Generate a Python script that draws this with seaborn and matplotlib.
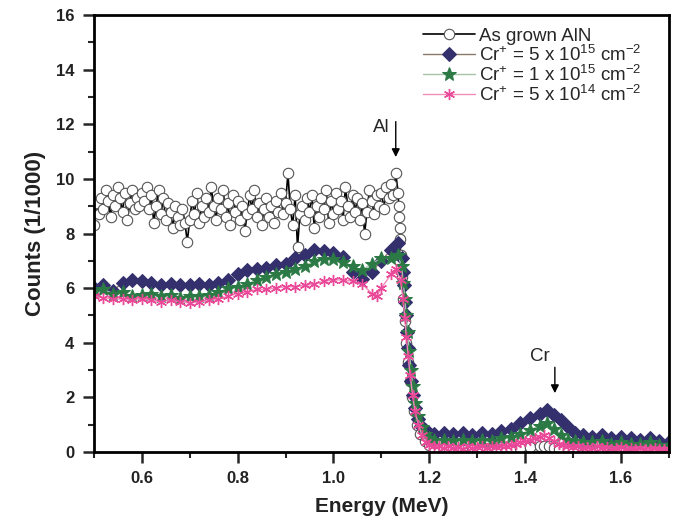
import numpy as np
import pandas as pd
import seaborn as sns
import matplotlib.pyplot as plt

sns.set_style("ticks")
plt.rcParams['font.family'] = ['Liberation Sans', 'DejaVu Sans']
plt.rcParams['mathtext.fontset'] = 'custom'
plt.rcParams['mathtext.rm'] = 'Liberation Sans'
plt.rcParams['mathtext.it'] = 'Liberation Sans:italic'
plt.rcParams['mathtext.bf'] = 'Liberation Sans:bold'

# ---- As grown AlN ----
aln_x = list(np.round(np.arange(0.500, 1.1301, 0.005), 3)) + [
    1.135, 1.136, 1.137, 1.138, 1.139, 1.140, 1.143, 1.146, 1.149, 1.152,
    1.155, 1.159, 1.163, 1.168, 1.174, 1.181, 1.190, 1.200, 1.210,
    1.23, 1.25, 1.27, 1.29, 1.31, 1.33, 1.35, 1.37, 1.39, 1.41, 1.43,
    1.44, 1.45, 1.46, 1.47, 1.49, 1.51, 1.53, 1.55, 1.57, 1.59, 1.61,
    1.63, 1.65, 1.67, 1.69]
aln_y = [
    8.3, 9.1, 8.7, 9.3, 8.9, 9.6, 9.2, 8.6, 9.4, 9.0,
    9.7, 9.3, 8.8, 9.5, 8.5, 9.1, 9.6, 8.9, 9.3, 9.0,
    9.5, 9.2, 9.7, 8.9, 9.4, 8.4, 9.0, 9.6, 8.7, 9.3,
    8.5, 9.1, 8.8, 8.2, 9.0, 8.6, 8.3, 8.9, 8.4, 7.7,
    8.5, 9.2, 8.7, 9.5, 8.4, 9.0, 8.6, 9.3, 8.8, 9.7,
    9.0, 8.5, 9.3, 8.9, 9.6, 8.6, 9.1, 8.3, 9.4, 8.8,
    9.2, 8.5, 9.0, 8.1, 8.7, 9.4, 8.9, 9.6, 8.6, 9.1,
    8.3, 8.9, 9.3, 8.6, 9.0, 8.4, 9.2, 8.8, 9.5, 8.7,
    9.1, 10.2, 8.9, 8.3, 9.4, 7.5, 8.7, 9.0, 8.5, 9.3,
    8.8, 9.4, 8.2, 9.0, 8.6, 9.3, 8.9, 9.6, 8.4, 9.2,
    8.7, 9.5, 8.9, 9.2, 8.5, 9.7, 9.0, 8.6, 9.4, 8.8,
    9.3, 8.5, 9.1, 8.0, 8.8, 9.6, 9.2, 8.7, 9.4, 9.0,
    9.5, 8.9, 9.7, 9.3, 9.8, 9.4, 10.2,
    9.5, 9.0, 8.6, 8.2, 7.8, 7.2, 6.4, 5.6, 4.8, 4.0,
    3.3, 2.6, 2.0, 1.5, 1.0, 0.65, 0.4, 0.25, 0.15,
    0.1, 0.1, 0.08, 0.1, 0.08, 0.1, 0.1, 0.12, 0.15, 0.18, 0.2,
    0.22, 0.2, 0.15, 0.12, 0.1, 0.08, 0.1, 0.08, 0.1, 0.08, 0.1,
    0.08, 0.1, 0.08, 0.1]

# ---- Cr+ = 5e15 ----
cr515_x = list(np.round(np.arange(0.50, 1.1201, 0.02), 3)) + [
    1.135, 1.142, 1.145, 1.147, 1.149, 1.151, 1.153, 1.155, 1.158, 1.161,
    1.165, 1.170, 1.176, 1.183, 1.192, 1.200, 1.210,
    1.23, 1.25, 1.27, 1.29, 1.31, 1.33, 1.35, 1.37, 1.39, 1.41, 1.43,
    1.445, 1.46, 1.475, 1.49, 1.505, 1.52, 1.54, 1.56, 1.58, 1.60, 1.62,
    1.64, 1.66, 1.68, 1.70]
cr515_y = [
    6.0, 6.1, 5.9, 6.2, 6.3, 6.25, 6.2, 6.1, 6.15, 6.1,
    6.1, 6.15, 6.1, 6.2, 6.3, 6.5, 6.65, 6.7, 6.75, 6.85,
    6.9, 7.1, 7.2, 7.4, 7.35, 7.3, 7.15, 6.6, 6.35, 6.6,
    7.0, 7.4,
    7.65, 7.1, 6.6, 6.1, 5.5, 5.0, 4.4, 3.8, 3.2, 2.6,
    2.1, 1.6, 1.2, 0.95, 0.8, 0.7, 0.65,
    0.7, 0.65, 0.7, 0.6, 0.7, 0.65, 0.75, 0.85, 1.05, 1.25, 1.4,
    1.55, 1.35, 1.15, 0.9, 0.7, 0.6, 0.55, 0.6, 0.5, 0.55, 0.5,
    0.45, 0.5, 0.4, 0.35]

# ---- Cr+ = 1e15 ----
cr115_x = list(np.round(np.arange(0.50, 1.1201, 0.02), 3)) + [
    1.135, 1.142, 1.146, 1.149, 1.152, 1.155, 1.158, 1.162, 1.166, 1.171,
    1.177, 1.184, 1.192, 1.200, 1.210,
    1.23, 1.25, 1.27, 1.29, 1.31, 1.33, 1.35, 1.37, 1.39, 1.41, 1.43,
    1.445, 1.46, 1.475, 1.49, 1.505, 1.52, 1.54, 1.56, 1.58, 1.60, 1.62,
    1.64, 1.66, 1.68, 1.70]
cr115_y = [
    5.9, 5.95, 5.8, 5.85, 5.7, 5.75, 5.8, 5.7, 5.75, 5.65,
    5.7, 5.7, 5.75, 5.85, 6.0, 6.05, 6.15, 6.3, 6.4, 6.5,
    6.6, 6.7, 6.8, 7.0, 7.05, 7.05, 6.95, 6.8, 6.65, 6.9,
    7.1, 7.1,
    7.2, 6.8, 6.2, 5.6, 5.0, 4.4, 3.7, 3.0, 2.4, 1.8,
    1.3, 0.9, 0.65, 0.5, 0.45,
    0.45, 0.4, 0.45, 0.4, 0.45, 0.4, 0.5, 0.55, 0.65, 0.8, 0.95,
    1.05, 0.85, 0.6, 0.45, 0.4, 0.35, 0.35, 0.4, 0.3, 0.35, 0.3,
    0.3, 0.35, 0.25, 0.25]

# ---- Cr+ = 5e14 ----
cr514_x = list(np.round(np.arange(0.50, 1.0801, 0.02), 3)) + [
    1.09, 1.10, 1.12, 1.13,
    1.14, 1.145, 1.149, 1.152, 1.156, 1.160, 1.165, 1.170, 1.177, 1.185,
    1.193, 1.200, 1.210,
    1.22, 1.23, 1.24, 1.25, 1.26, 1.27, 1.28, 1.29, 1.30, 1.31, 1.32,
    1.33, 1.34, 1.35, 1.36, 1.37, 1.38, 1.39, 1.40, 1.41, 1.42, 1.43,
    1.44, 1.45, 1.46, 1.47, 1.48, 1.49, 1.50, 1.51, 1.52, 1.53, 1.54,
    1.55, 1.56, 1.57, 1.58, 1.59, 1.60, 1.61, 1.62, 1.63, 1.64, 1.65,
    1.66, 1.67, 1.68, 1.69, 1.70]
cr514_y = [
    5.7, 5.65, 5.6, 5.6, 5.55, 5.6, 5.55, 5.5, 5.55, 5.5,
    5.45, 5.5, 5.55, 5.6, 5.7, 5.8, 5.85, 5.95, 5.95, 6.0,
    6.05, 6.05, 6.1, 6.15, 6.25, 6.3, 6.3, 6.25, 6.15, 5.8,
    5.7, 6.0, 6.5, 6.7,
    6.3, 5.6, 4.9, 4.2, 3.5, 2.8, 2.1, 1.5, 1.0, 0.6,
    0.35, 0.25, 0.2,
    0.2, 0.15, 0.2, 0.15, 0.18, 0.12, 0.2, 0.15, 0.18, 0.2, 0.15,
    0.2, 0.18, 0.22, 0.2, 0.25, 0.3, 0.35, 0.4, 0.45, 0.5, 0.55,
    0.6, 0.5, 0.4, 0.3, 0.25, 0.2, 0.18, 0.2, 0.15, 0.18, 0.15,
    0.2, 0.15, 0.18, 0.12, 0.15, 0.18, 0.12, 0.15, 0.12, 0.15, 0.1,
    0.12, 0.15, 0.1, 0.12, 0.1]

fig, ax = plt.subplots(figsize=(6.75, 5.23), dpi=100)
fig.subplots_adjust(left=0.139, right=0.991, top=0.971, bottom=0.136)

sns.lineplot(x=aln_x, y=aln_y, ax=ax, sort=False, estimator=None,
             color='black', lw=1.2, marker='o', markersize=7.5,
             markerfacecolor='white', markeredgecolor='#555555',
             markeredgewidth=0.8, label='As grown AlN')
sns.lineplot(x=cr515_x, y=cr515_y, ax=ax, sort=False, estimator=None,
             color='#8a7868', lw=1.0, marker='D', markersize=7.5,
             markerfacecolor='#34306e', markeredgecolor='#34306e',
             label=r'Cr$^{+}$ = 5 x 10$^{15}$ cm$^{-2}$')
sns.lineplot(x=cr115_x, y=cr115_y, ax=ax, sort=False, estimator=None,
             color='#a8c4a8', lw=1.0, marker='*', markersize=10,
             markerfacecolor='#2b7a45', markeredgecolor='#2b7a45',
             label=r'Cr$^{+}$ = 1 x 10$^{15}$ cm$^{-2}$')
sns.lineplot(x=cr514_x, y=cr514_y, ax=ax, sort=False, estimator=None,
             color='#f08cb8', lw=1.0, marker=(6, 2, 0), markersize=8,
             markeredgecolor='#ea4898', markeredgewidth=1.0,
             label=r'Cr$^{+}$ = 5 x 10$^{14}$ cm$^{-2}$')

ax.set_xlim(0.5, 1.7)
ax.set_ylim(0, 16)
ax.set_xticks([0.6, 0.8, 1.0, 1.2, 1.4, 1.6])
ax.set_xticks([0.5, 0.7, 0.9, 1.1, 1.3, 1.5, 1.7], minor=True)
ax.set_yticks(range(0, 17, 2))
ax.set_yticks(range(1, 17, 2), minor=True)
ax.tick_params(which='major', direction='out', length=8, width=1.8,
               labelsize=12, pad=6)
ax.tick_params(which='minor', direction='out', length=4.5, width=1.5)
for lab in ax.get_xticklabels() + ax.get_yticklabels():
    lab.set_fontweight('bold')
    lab.set_color('#222222')
for s in ax.spines.values():
    s.set_linewidth(2)
    s.set_color('black')

ax.set_xlabel('Energy (MeV)', fontsize=15, fontweight='bold', labelpad=8,
              color='#222222')
ax.set_ylabel('Counts (1/1000)', fontsize=16, fontweight='bold', labelpad=7,
              color='#222222')

ax.annotate('', xy=(1.13, 10.7), xytext=(1.13, 12.2),
            arrowprops=dict(arrowstyle='-|>', color='black', lw=1.0,
                            mutation_scale=12))
ax.text(1.118, 11.9, 'Al', fontsize=13.5, ha='right', va='center')
ax.annotate('', xy=(1.462, 2.05), xytext=(1.462, 3.2),
            arrowprops=dict(arrowstyle='-|>', color='black', lw=1.0,
                            mutation_scale=12))
ax.text(1.43, 3.5, 'Cr', fontsize=13.5, ha='center', va='center')

ax.legend(loc='upper left', bbox_to_anchor=(0.572, 0.972), fontsize=13.5,
          frameon=False, handlelength=2.8, handletextpad=0.2,
          borderpad=0, labelspacing=0.0, borderaxespad=0)

plt.savefig('out.png', dpi=100)
